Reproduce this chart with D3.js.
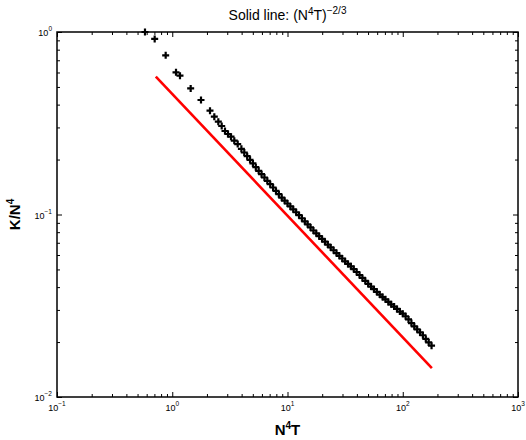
<!DOCTYPE html>
<html>
<head>
<meta charset="utf-8">
<script src="https://cdn.jsdelivr.net/npm/d3@7"></script>
<style>
  html, body { margin: 0; padding: 0; background: #fff; }
  svg { display: block; }
  text { font-family: "Liberation Sans", Arial, Helvetica, sans-serif; fill: #000; }
</style>
</head>
<body>
<svg id="chart" width="526" height="440"></svg>
<script>
// ---- data ----
const kx = [0.580,0.704,0.877,1.078,1.167,1.445,1.776,2.126,2.317,2.510,2.686,2.869,3.046,3.235,3.454,3.698,
  3.981,4.217,4.467,4.732,5.012,5.309,5.623,5.957,6.310,6.683,7.079,7.499,7.943,8.414,8.913,9.441,
  10.00,10.59,11.22,11.89,12.59,13.34,14.13,14.96,15.85,16.79,17.78,18.84,19.95,21.13,22.39,23.71,
  25.12,26.61,28.18,29.85,31.62,33.50,35.48,37.58,39.81,42.17,44.67,47.32,50.12,53.09,56.23,59.57,
  63.10,66.83,70.79,74.99,79.43,84.14,89.13,94.41,
  100.0,105.9,112.2,118.9,125.9,133.4,141.3,149.6,158.5,167.9,177.8];
const ky = [1.00,0.916,0.745,0.601,0.576,0.491,0.424,0.3705,0.3434,0.3225,0.3054,0.2868,0.2761,0.2669,0.2537,0.2433,
  0.2291,0.2186,0.2087,0.1994,0.1904,0.1816,0.1736,0.1663,0.1595,0.1530,0.1466,0.1406,0.1347,0.1292,0.1237,0.1190,
  0.1149,0.1107,0.1068,0.1029,0.0992,0.0954,0.0918,0.0883,0.0849,0.0817,0.0789,0.0761,0.0735,0.0710,0.0684,0.0660,
  0.0637,0.0615,0.0594,0.0574,0.0554,0.0536,0.0520,0.0502,0.0484,0.0466,0.0449,0.0433,0.0417,0.0403,0.0390,0.0377,
  0.0364,0.0353,0.0343,0.0332,0.0322,0.0313,0.0304,0.0294,
  0.0286,0.0277,0.0266,0.0254,0.0244,0.0235,0.0226,0.0218,0.0208,0.0199,0.0191];
const lineX = [0.72, 179];
const lineY = [0.569, 0.0144];
const xMajor = [0.1, 1, 10, 100, 1000];
const yMajor = [0.01, 0.1, 1];

// ---- layout ----
const L = 57, R = 518, T = 32, B = 397;
const svg = d3.select("#chart");
const x = d3.scaleLog().domain([0.1, 1000]).range([L, R]);
const y = d3.scaleLog().domain([0.01, 1]).range([B, T]);

function minors(major) {
  const out = [];
  for (let i = 0; i < major.length - 1; i++)
    for (let k = 2; k <= 9; k++) out.push(major[i] * k);
  return out;
}
const xMinor = minors(xMajor), yMinor = minors(yMajor);

function addAxis(gen, scale, vals, len, tr) {
  const g = svg.append("g").attr("transform", tr)
    .call(gen(scale).tickValues(vals).tickSizeInner(-len).tickSizeOuter(0).tickFormat(""));
  g.select(".domain").remove();
  g.selectAll("line").attr("stroke", "#000").attr("stroke-width", 1);
}
addAxis(d3.axisBottom, x, xMajor, 5, `translate(0,${B})`);
addAxis(d3.axisBottom, x, xMinor, 3, `translate(0,${B})`);
addAxis(d3.axisTop, x, xMajor, 5, `translate(0,${T})`);
addAxis(d3.axisTop, x, xMinor, 3, `translate(0,${T})`);
addAxis(d3.axisLeft, y, yMajor, 5, `translate(${L},0)`);
addAxis(d3.axisLeft, y, yMinor, 3, `translate(${L},0)`);
addAxis(d3.axisRight, y, yMajor, 5, `translate(${R},0)`);
addAxis(d3.axisRight, y, yMinor, 3, `translate(${R},0)`);

svg.append("rect").attr("x", L).attr("y", T).attr("width", R - L).attr("height", B - T)
  .attr("fill", "none").attr("stroke", "#000").attr("stroke-width", 1.5);

// tick labels
function expText(v) { const e = Math.round(Math.log10(v)); return e < 0 ? "\u2212" + (-e) : String(e); }
xMajor.forEach(v => {
  const t = svg.append("text").attr("x", x(v)).attr("y", 411).attr("text-anchor", "middle")
    .attr("font-size", 9);
  t.append("tspan").text("10");
  t.append("tspan").attr("dy", -5).attr("font-size", 6.5).text(expText(v));
});
yMajor.forEach(v => {
  const t = svg.append("text").attr("x", 52).attr("y", y(v) + 4).attr("text-anchor", "end")
    .attr("font-size", 9);
  t.append("tspan").text("10");
  t.append("tspan").attr("dy", -5).attr("font-size", 6.5).text(expText(v));
});

// red reference line
const pts = lineX.map((d, i) => [x(d), y(lineY[i])]);
svg.append("path").attr("d", d3.line()(pts)).attr("stroke", "#ff0000")
  .attr("stroke-width", 2.6).attr("fill", "none");

// data markers "+"
svg.append("g").selectAll("path").data(kx.map((d, i) => [d, ky[i]])).join("path")
  .attr("transform", d => `translate(${x(d[0])},${y(d[1])})`)
  .attr("d", "M-3.5,0H3.5M0,-3.5V3.5").attr("stroke", "#000").attr("stroke-width", 2.2).attr("fill", "none");

// title
const tt = svg.append("text").attr("x", (L + R) / 2).attr("y", 20).attr("text-anchor", "middle").attr("font-size", 14);
tt.append("tspan").text("Solid line: (N");
tt.append("tspan").attr("dy", -5).attr("font-size", 10).text("4");
tt.append("tspan").attr("dy", 5).text("T)");
tt.append("tspan").attr("dy", -6).attr("font-size", 10).text("\u22122/3");

// axis labels
const xl = svg.append("text").attr("x", (L + R) / 2).attr("y", 435).attr("text-anchor", "middle")
  .attr("font-size", 15).attr("font-weight", "bold");
xl.append("tspan").text("N");
xl.append("tspan").attr("dy", -6).attr("font-size", 10).text("4");
xl.append("tspan").attr("dy", 6).text("T");

const yl = svg.append("text").attr("transform", `translate(20,${(T + B) / 2}) rotate(-90)`)
  .attr("text-anchor", "middle").attr("font-size", 15).attr("font-weight", "bold");
yl.append("tspan").text("K/N");
yl.append("tspan").attr("dy", -6).attr("font-size", 10).text("4");
</script>
</body>
</html>
